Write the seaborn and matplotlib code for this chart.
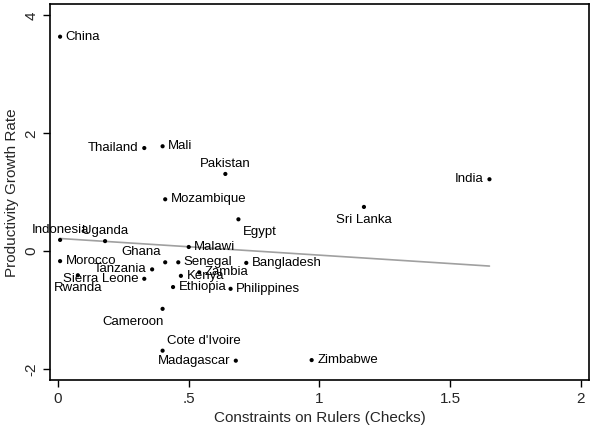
import numpy as np
import pandas as pd
import matplotlib
matplotlib.use("Agg")
import matplotlib.pyplot as plt
import seaborn as sns

countries = ["China", "Thailand", "Mali", "Pakistan", "Mozambique", "India", "Sri Lanka",
             "Egypt", "Indonesia", "Uganda", "Malawi", "Morocco", "Ghana", "Senegal",
             "Bangladesh", "Tanzania", "Zambia", "Kenya", "Sierra Leone", "Rwanda",
             "Ethiopia", "Philippines", "Cameroon", "Cote d'Ivoire", "Madagascar", "Zimbabwe"]
checks = [0.008, 0.33, 0.40, 0.64, 0.41, 1.65, 1.17,
          0.69, 0.008, 0.18, 0.50, 0.008, 0.41, 0.46,
          0.72, 0.36, 0.54, 0.47, 0.33, 0.076,
          0.44, 0.66, 0.40, 0.40, 0.68, 0.97]
growth = [3.64, 1.75, 1.78, 1.31, 0.88, 1.22, 0.75,
          0.54, 0.19, 0.17, 0.07, -0.17, -0.19, -0.19,
          -0.20, -0.31, -0.36, -0.42, -0.47, -0.41,
          -0.61, -0.64, -0.98, -1.69, -1.86, -1.85]
# Stata-like label clock positions
label_pos = [3, 9, 3, 12, 3, 9, 6,
             4, 12, 12, 3, 3, 11, 3,
             3, 9, 3, 3, 9, 6,
             3, 3, 7, 1, 9, 3]

df = pd.DataFrame({"country": countries, "checks": checks, "growth": growth, "pos": label_pos})

sns.set_style("white")
plt.rcParams["font.family"] = ["Liberation Sans", "DejaVu Sans"]

fig = plt.figure(figsize=(5.9, 4.3), dpi=100)
ax = fig.add_axes([0.085, 0.116, 0.913, 0.874])

sns.regplot(data=df, x="checks", y="growth", ax=ax, scatter=False, ci=None,
            truncate=True, color="#a0a0a0", line_kws={"lw": 1.2})
sns.scatterplot(data=df, x="checks", y="growth", ax=ax, color="black", s=9,
                edgecolor="none", zorder=3)

offsets = {
    3: (4, 0, "left", "center"),
    9: (-4, 0, "right", "center"),
    12: (0, 3, "center", "bottom"),
    6: (0, -5, "center", "top"),
    4: (3, -5, "left", "top"),
    11: (-3, 3, "right", "bottom"),
    7: (1, -5, "right", "top"),
    1: (3, 3, "left", "bottom"),
}
for _, r in df.iterrows():
    dx, dy, ha, va = offsets[r["pos"]]
    ax.annotate(r["country"], (r["checks"], r["growth"]), xytext=(dx, dy),
                textcoords="offset points", ha=ha, va=va, fontsize=9.5, color="black")

ax.set_xlim(-0.03, 2.03)
ax.set_ylim(-2.19, 4.19)
ax.set_xticks([0, 0.5, 1, 1.5, 2])
ax.set_xticklabels(["0", ".5", "1", "1.5", "2"])
ax.set_yticks([-2, 0, 2, 4])
ax.set_yticklabels(["-2", "0", "2", "4"], rotation=90, va="center")
ax.tick_params(axis="both", direction="out", length=5, width=1, labelsize=11,
               bottom=True, left=True, color="black")
ax.set_xlabel("Constraints on Rulers (Checks)", fontsize=11)
ax.set_ylabel("Productivity Growth Rate", fontsize=11)
for s in ax.spines.values():
    s.set_color("black")
    s.set_linewidth(1.2)

fig.savefig("out.png", dpi=100)
